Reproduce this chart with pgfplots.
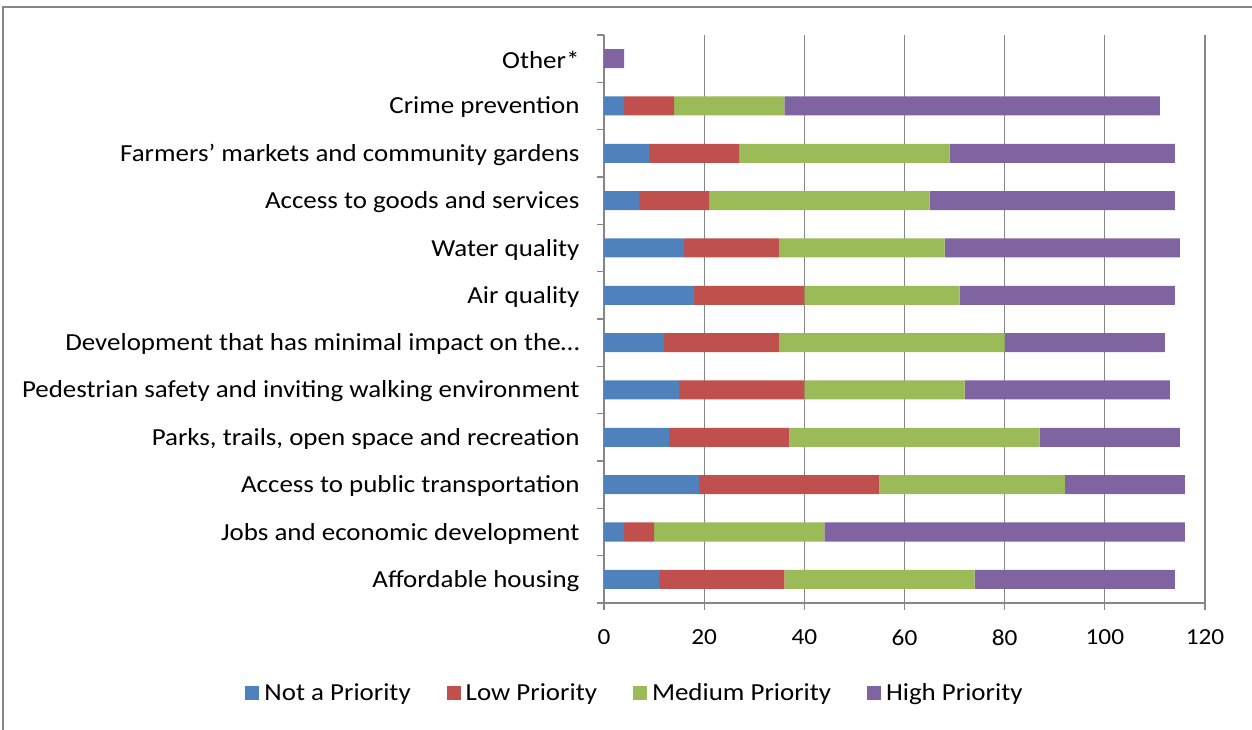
\documentclass[border=0pt]{standalone}
\usepackage{pgfplots}
\pgfplotsset{compat=1.18}
\usepackage{fontspec}
\setmainfont[FakeStretch=1.1]{Carlito}
\definecolor{cblue}{HTML}{4F81BD}
\definecolor{cred}{HTML}{C0504D}
\definecolor{cgreen}{HTML}{9BBB59}
\definecolor{cpurple}{HTML}{8064A2}
\definecolor{gridgray}{HTML}{868686}
\begin{document}
\begin{tikzpicture}
\useasboundingbox (-604bp,-127bp) rectangle (648bp,603bp);
\draw[gridgray, line width=1.2bp] (-601bp,-140bp) -- (-601bp,596bp) -- (660bp,596bp);
\begin{axis}[
  at={(0,0)}, anchor=south west,
  scale only axis, width=601bp, height=568bp,
  xbar stacked, bar width=19bp,
  xmin=0, xmax=120, ymin=-0.5, ymax=11.5,
  xtick={0,20,...,120},
  ytick={0,...,11},
  yticklabels={Affordable housing, Jobs and economic development, Access to public transportation, {Parks, trails, open space and recreation}, Pedestrian safety and inviting walking environment, Development that has minimal impact on the…, Air quality, Water quality, Access to goods and services, Farmers’ markets and community gardens, Crime prevention, Other*},
  axis x line=bottom, axis y line=left,
  axis line style={gridgray, line width=1.3bp, -},
  xmajorgrids, grid style={gridgray, line width=1.3bp},
  ytick style={draw=none},
  xtick style={gridgray, line width=1.3bp},
  tick align=outside, major tick length=7bp,
  extra y ticks={-0.5,0.5,...,11.5},
  extra y tick labels={},
  extra y tick style={ytick style={draw=gridgray, line width=1.3bp}, major tick length=7bp, tick align=outside, grid=none},
  yticklabel style={font=\fontsize{24.5bp}{28bp}\selectfont, text=black, xshift=-14bp, yshift=-1.5bp},
  xticklabel style={font=\fontsize{23bp}{26bp}\selectfont, text=black, yshift=-16bp},
  /pgf/number format/assume math mode=true,
  legend columns=4,
  legend style={draw=none, fill=none, font=\fontsize{24.5bp}{28bp}\selectfont,
    at={(axis description cs:0.0516,-0.158)}, anchor=center,
    /tikz/every odd column/.append style={column sep=3bp},
    /tikz/every even column/.append style={column sep=34bp}},
  legend image code/.code={\fill[#1] (0bp,-7bp) rectangle (14bp,7bp);},
  every axis plot/.append style={draw=none},
]
\addplot[fill=cblue] coordinates {(11,0) (4,1) (19,2) (13,3) (15,4) (12,5) (18,6) (16,7) (7,8) (9,9) (4,10) (0,11)};
\addplot[fill=cred] coordinates {(25,0) (6,1) (36,2) (24,3) (25,4) (23,5) (22,6) (19,7) (14,8) (18,9) (10,10) (0,11)};
\addplot[fill=cgreen] coordinates {(38,0) (34,1) (37,2) (50,3) (32,4) (45,5) (31,6) (33,7) (44,8) (42,9) (22,10) (0,11)};
\addplot[fill=cpurple] coordinates {(40,0) (72,1) (24,2) (28,3) (41,4) (32,5) (43,6) (47,7) (49,8) (45,9) (75,10) (4,11)};
\legend{Not a Priority, Low Priority, Medium Priority, High Priority}
\end{axis}
\end{tikzpicture}
\end{document}
